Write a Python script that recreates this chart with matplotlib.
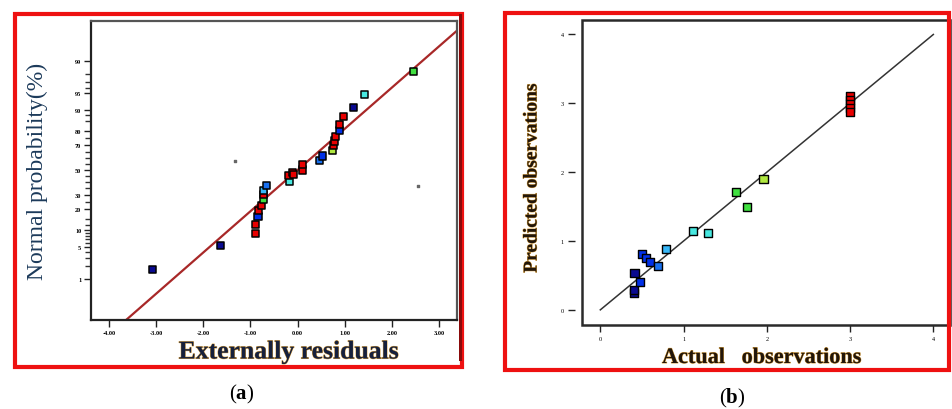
"""Normal probability plot of residuals and predicted vs actual plot."""

from statistics import NormalDist

import matplotlib

matplotlib.use("Agg")
import matplotlib.pyplot as plt
import matplotlib.patheffects as pe
from matplotlib.patches import Rectangle

plt.rcParams["font.family"] = ["Liberation Serif", "DejaVu Serif"]
plt.rcParams["mathtext.fontset"] = "custom"
plt.rcParams["mathtext.rm"] = "Liberation Serif"
plt.rcParams["mathtext.bf"] = "Liberation Serif:bold"

# colour names used by both panels
NAVY = "#0a0a90"
BLUE = "#0030e8"
MBLUE = "#1870f0"
LBLUE = "#38b8f8"
CYAN = "#48e8e0"
GREEN = "#40e040"
YGREEN = "#b0e840"
RED = "#e80000"

# panel (a): externally studentized residuals vs normal probability (%)
resid_a = [-3.08, -1.64, -0.90, -0.90, -0.84, -0.83, -0.76, -0.73, -0.73, -0.72,
           -0.65, -0.17, -0.19, -0.11, -0.08, 0.11, 0.11, 0.47, 0.53, 0.75,
           0.76, 0.79, 0.81, 0.89, 0.89, 0.98, 1.18, 1.42, 2.46]
prob_a = [1.7, 5.3, 8.7, 12.1, 15.9, 19.2, 22.7, 26.8, 29.8, 33.4,
          37.1, 40.5, 45.6, 47.6, 46.0, 50.0, 54.4, 58.3, 61.8, 65.9,
          69.8, 73.2, 76.4, 80.2, 83.4, 87.3, 91.0, 94.6, 98.2]
colors_a = [NAVY, NAVY, RED, RED, BLUE, RED, RED, GREEN, RED, LBLUE,
            MBLUE, CYAN, RED, RED, RED, RED, RED, MBLUE, BLUE, YGREEN,
            RED, RED, RED, BLUE, RED, RED, NAVY, CYAN, GREEN]
stray_x = [-1.32, 2.55]
stray_p = [57.5, 36.7]
line_a_x = [-4.5, 3.5]
line_a_slope = 0.88

x_ticks_a = [-4, -3, -2, -1, 0, 1, 2, 3]
y_ticks_a = [1, 5, 10, 20, 30, 50, 70, 80, 90, 95, 99]
y_minor_a = [2, 3, 4, 6, 7, 8, 9, 12, 15, 25, 35, 40, 45, 55, 60, 65, 75, 85,
             88, 96, 97, 98]

# panel (b): actual vs predicted observations
actual_b = [0.40, 0.40, 0.41, 0.475, 0.50, 0.55, 0.60, 0.69, 0.79, 1.11,
            1.29, 1.63, 1.76, 1.96, 3.0, 3.0, 3.0, 3.0, 3.0]
pred_b = [0.25, 0.29, 0.53, 0.41, 0.81, 0.75, 0.69, 0.64, 0.89, 1.14,
          1.12, 1.71, 1.50, 1.90, 3.11, 3.05, 2.99, 2.93, 2.88]
colors_b = [NAVY, NAVY, NAVY, BLUE, BLUE, BLUE, BLUE, MBLUE, LBLUE, CYAN,
            CYAN, GREEN, GREEN, YGREEN, RED, RED, RED, RED, RED]
ticks_b = [0, 1, 2, 3, 4]

W, H = 952, 410
nd = NormalDist()


def z(p):
    return nd.inv_cdf(p / 100.0)


def box(px_left, px_top, px_right, px_bottom):
    return [px_left / W, 1 - px_bottom / H, (px_right - px_left) / W, (px_bottom - px_top) / H]


fig = plt.figure(figsize=(W / 100, H / 100), dpi=100)
fig.patch.set_facecolor("white")

shade = [pe.withStroke(linewidth=0.7, foreground="#d8a040")]

# ---------------- panel (a) ----------------
ax = fig.add_axes(box(91, 22, 457, 321))
ax.set_xlim(-4.38, 3.38)
ax.set_ylim(-3.20, 3.18)
xs = line_a_x
ax.plot(xs, [line_a_slope * v for v in xs], color="#a82828", lw=1.6, zorder=2)
ax.scatter(resid_a, [z(p) for p in prob_a], marker="s", s=26, c=colors_a,
           edgecolors="black", linewidths=1.1, zorder=3)
ax.scatter(stray_x, [z(p) for p in stray_p], marker="s", s=2, c="#666666", zorder=3)

ax.set_xticks(x_ticks_a)
ax.set_xticklabels([f"{v:.2f}" for v in x_ticks_a], fontsize=4.5, fontweight="bold")
ax.set_yticks([z(p) for p in y_ticks_a])
ax.set_yticklabels([str(p) for p in y_ticks_a], fontsize=4.5, fontweight="bold")
ax.set_yticks([z(p) for p in y_minor_a], minor=True)
ax.tick_params(axis="both", which="major", direction="out", length=5, width=1.0,
               color="#222222", pad=2)
ax.tick_params(axis="y", which="minor", direction="out", length=4, width=1.0,
               color="#333333")
for name, sp in ax.spines.items():
    sp.set_color("#555555" if name in ("top", "right") else "#222222")
    sp.set_linewidth(1.6)

fig.text(37 / W, 1 - 171 / H, "Normal probability(%)", rotation=90, ha="center",
         va="center", fontsize=17, color="#1c3a5a")
fig.text(289 / W, 1 - 353 / H, "Externally residuals", ha="center", va="center",
         fontsize=18.5, fontweight="bold", color="#16203c", path_effects=shade)

fig.patches.append(Rectangle((15 / W, 1 - 368 / H), 447 / W, 353 / H,
                             transform=fig.transFigure, fill=False,
                             edgecolor="#ee1111", linewidth=3))
fig.patches.append(Rectangle((459 / W, 1 - 362 / H), 3 / W, 347 / H,
                             transform=fig.transFigure, color="#8a0a0a", lw=0))
fig.text(242 / W, 1 - 394 / H, r"($\mathbf{a}$)", ha="center", va="center", fontsize=15)

# ---------------- panel (b) ----------------
bx = fig.add_axes(box(582, 21, 950, 326))
# move the y tick row away from the box before labelling (this resets ticks)
bx.spines["left"].set_position(("outward", 5))
for sp in bx.spines.values():
    sp.set_visible(False)
bx.set_xlim(-0.22, 4.2)
bx.set_ylim(-0.22, 4.21)
bx.plot([0, 4], [0, 4], color="#333333", lw=1.1, zorder=2)
bx.scatter(actual_b, pred_b, marker="s", s=34, c=colors_b, edgecolors="black",
           linewidths=1.0, zorder=3)
bx.set_xticks(ticks_b)
bx.set_xticklabels([str(v) for v in ticks_b])
bx.set_yticks(ticks_b)
bx.set_yticklabels([str(v) for v in ticks_b])
bx.tick_params(direction="out", length=5, width=1.0, color="#222222", pad=3,
               labelsize=4.5)
bx.add_patch(Rectangle((0, 0), 1, 1, transform=bx.transAxes, fill=False,
                       edgecolor="#2a2a2a", linewidth=1.8, clip_on=False, zorder=5))

fig.text(532 / W, 1 - 179 / H, "Predicted observations", rotation=90, ha="center",
         va="center", fontsize=14, fontweight="bold", color="#22160a", path_effects=shade)
fig.text(762 / W, 1 - 359 / H, "Actual   observations", ha="center", va="center",
         fontsize=16, fontweight="bold", color="#22160a", path_effects=shade)

fig.patches.append(Rectangle((505 / W, 1 - 371 / H), 444 / W, 357 / H,
                             transform=fig.transFigure, fill=False,
                             edgecolor="#ee1111", linewidth=3))
fig.text(732 / W, 1 - 398 / H, r"($\mathbf{b}$)", ha="center", va="center", fontsize=15)

fig.savefig("out.png", dpi=100)
plt.close(fig)
